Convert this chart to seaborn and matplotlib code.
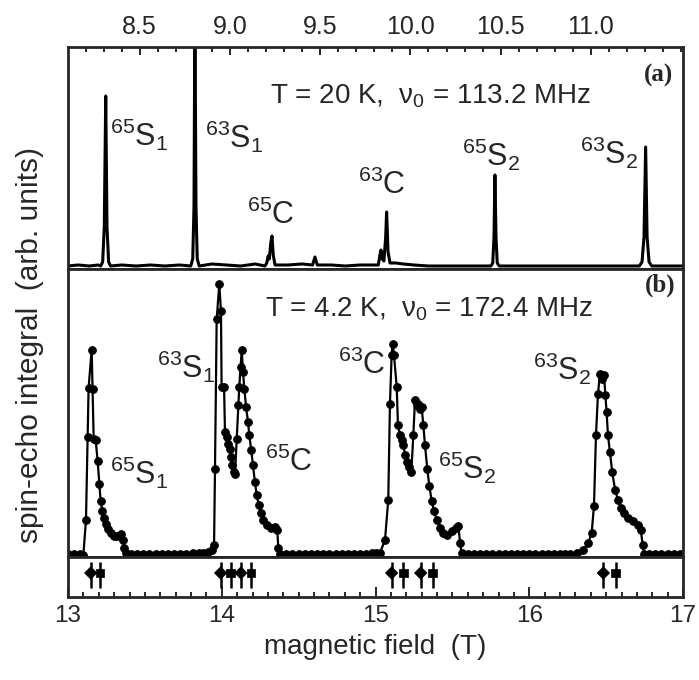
import numpy as np
import pandas as pd
import seaborn as sns
import matplotlib.pyplot as plt
from matplotlib.ticker import MultipleLocator

# ---- panel (a): T = 20 K, nu0 = 113.2 MHz  (field in T, signal in arb. units)
field_a = [8.10, 8.16, 8.22, 8.27,
           8.284, 8.295, 8.304, 8.312, 8.319, 8.328, 8.339,
           8.40, 8.48, 8.56, 8.64, 8.72,
           8.783, 8.794, 8.801, 8.806, 8.812, 8.819, 8.830,
           8.90, 8.98, 9.06, 9.14,
           9.194, 9.204, 9.212, 9.218, 9.227, 9.233, 9.240, 9.250,
           9.32, 9.40,
           9.458, 9.471, 9.484,
           9.56, 9.64, 9.72, 9.80,
           9.822, 9.831, 9.837, 9.844, 9.853, 9.863, 9.868, 9.876, 9.887,
           9.92, 9.96, 10.02,
           10.10, 10.20, 10.30, 10.40,
           10.446, 10.456, 10.463, 10.468, 10.474, 10.481, 10.492,
           10.58, 10.68, 10.78, 10.88, 10.98, 11.08, 11.18,
           11.268, 11.283, 11.294, 11.303, 11.311, 11.322, 11.337,
           11.40, 11.51]
signal_a = [1, 2, 1, 2,
            1, 5, 40, 171, 40, 5, 1,
            2, 1, 2, 1, 2,
            1, 8, 60, 260, 60, 8, 1,
            3, 2, 1, 3,
            1, 4, 11, 8, 25, 31, 12, 2,
            2, 3,
            2, 10, 2,
            2, 1, 2, 2,
            2, 12, 17, 8, 6, 30, 55, 15, 4,
            4, 3, 2,
            1, 1, 1, 1,
            1, 4, 30, 92, 30, 4, 1,
            1, 1, 1, 1, 1, 1, 1,
            1, 5, 30, 120, 30, 5, 1,
            1, 1]

# ---- panel (b): T = 4.2 K, nu0 = 172.4 MHz
field_b = [13.00, 13.04, 13.08,
           13.100, 13.117, 13.128, 13.134, 13.154, 13.160, 13.167, 13.180, 13.193, 13.204, 13.212,
           13.223, 13.234, 13.247, 13.262, 13.280, 13.299, 13.321, 13.343, 13.356, 13.364, 13.377,
           13.41, 13.45, 13.49, 13.53, 13.57, 13.61, 13.65, 13.69, 13.73, 13.77, 13.81, 13.85, 13.88,
           13.913, 13.934, 13.950, 13.956, 13.967, 13.984, 13.995, 13.999, 14.015, 14.021,
           14.032, 14.043, 14.054, 14.062, 14.069, 14.078, 14.086, 14.097, 14.108, 14.114,
           14.123, 14.130, 14.138, 14.147, 14.158, 14.171, 14.179, 14.192, 14.203, 14.216,
           14.227, 14.240, 14.255, 14.270, 14.292, 14.318, 14.346, 14.361, 14.368, 14.379,
           14.42, 14.46, 14.50, 14.54, 14.58, 14.62, 14.66, 14.70, 14.74, 14.78, 14.82, 14.86,
           14.90, 14.94, 14.98, 15.00,
           15.029, 15.062, 15.083, 15.094, 15.105, 15.112, 15.120, 15.138, 15.146, 15.159,
           15.170, 15.181, 15.192, 15.203, 15.220, 15.233, 15.246, 15.257, 15.268, 15.279,
           15.289, 15.300, 15.311, 15.322, 15.337, 15.350, 15.365, 15.380, 15.398, 15.420,
           15.441, 15.467, 15.495, 15.524, 15.539, 15.550, 15.560,
           15.60, 15.64, 15.68, 15.72, 15.76, 15.80, 15.84, 15.88, 15.92, 15.96, 16.00, 16.04,
           16.08, 16.12, 16.16, 16.20, 16.23,
           16.265, 16.308, 16.352, 16.384, 16.406, 16.421, 16.434, 16.447, 16.460, 16.473,
           16.486, 16.495, 16.503, 16.512, 16.525, 16.540, 16.558, 16.576, 16.595, 16.616,
           16.644, 16.677, 16.709, 16.725, 16.738, 16.746,
           16.78, 16.82, 16.86, 16.90, 16.94, 16.98, 17.00]
signal_b = [1, 1, 1,
            0, 35, 117, 166, 204, 165, 115, 114, 93, 70, 54,
            44, 37, 31, 26, 22, 19, 19, 21, 15, 7, 2,
            1, 1, 1, 1, 1, 1, 1, 1, 1, 1, 2, 2, 2,
            3, 5, 10, 85, 234, 269, 242, 167, 167, 122,
            117, 110, 105, 97, 89, 82, 80, 115, 149, 167,
            187, 204, 182, 165, 147, 132, 119, 104, 89, 72,
            60, 50, 42, 35, 30, 27, 28, 25, 7, 1,
            1, 1, 1, 1, 1, 1, 1, 1, 1, 1, 1, 1,
            1, 1, 2, 2,
            2, 15, 55, 150, 199, 210, 199, 167, 129, 119,
            114, 109, 99, 92, 87, 82, 119, 154, 149, 150,
            145, 147, 129, 109, 85, 69, 54, 44, 35, 27,
            22, 20, 24, 27, 29, 12, 2,
            1, 1, 1, 1, 1, 1, 1, 1, 1, 1, 1, 1,
            1, 1, 1, 1, 1,
            1, 2, 5, 12, 22, 49, 119, 160, 180, 175,
            179, 159, 142, 119, 102, 82, 65, 55, 47, 42,
            37, 34, 30, 25, 10, 1,
            1, 1, 1, 1, 1, 1, 1]

# calculated line positions (stick diagram under panel b)
stick_field = [13.148, 13.208, 13.993, 14.058, 14.125, 14.190,
               15.105, 15.181, 15.294, 15.372, 16.482, 16.562]
stick_kind = ['diamond', 'square', 'diamond', 'square', 'diamond', 'square',
              'diamond', 'square', 'diamond', 'square', 'diamond', 'square']

top_ticks = [8.5, 9.0, 9.5, 10.0, 10.5, 11.0]
bottom_ticks = [13, 14, 15, 16, 17]

labels_a = [(8.335, 132, r'${}^{65}\mathrm{S}_1$'), (8.863, 130, r'${}^{63}\mathrm{S}_1$'),
            (9.095, 52, r'${}^{65}\mathrm{C}$'), (9.708, 82, r'${}^{63}\mathrm{C}$'),
            (10.284, 112, r'${}^{65}\mathrm{S}_2$'), (10.939, 114, r'${}^{63}\mathrm{S}_2$')]
labels_b = [(13.577, 187, r'${}^{63}\mathrm{S}_1$'), (13.273, 82, r'${}^{65}\mathrm{S}_1$'),
            (14.281, 92, r'${}^{65}\mathrm{C}$'), (14.758, 188, r'${}^{63}\mathrm{C}$'),
            (15.409, 87, r'${}^{65}\mathrm{S}_2$'), (16.026, 185, r'${}^{63}\mathrm{S}_2$')]

assert len(field_a) == len(signal_a) and len(field_b) == len(signal_b)
df_a = pd.DataFrame({'field': field_a, 'signal': signal_a})
df_b = pd.DataFrame({'field': field_b, 'signal': signal_b})
df_s = pd.DataFrame({'field': stick_field, 'kind': stick_kind, 'y': 0.6})

sns.set_style('ticks')
plt.rcParams['font.family'] = ['Liberation Sans', 'DejaVu Sans']
plt.rcParams['mathtext.fontset'] = 'custom'
plt.rcParams['mathtext.rm'] = 'Liberation Sans'
plt.rcParams['mathtext.it'] = 'Liberation Sans:italic'
plt.rcParams['mathtext.bf'] = 'Liberation Sans:bold'
plt.rcParams['axes.linewidth'] = 2.0

fig = plt.figure(figsize=(6.99, 6.80), dpi=100)
gs = fig.add_gridspec(3, 1, height_ratios=[222, 288, 40], hspace=0,
                      left=68 / 699, right=683 / 699, top=1 - 47 / 680, bottom=1 - 597 / 680)
ax_a = fig.add_subplot(gs[0])
ax_b = fig.add_subplot(gs[1])
ax_s = fig.add_subplot(gs[2])

# (a)
sns.lineplot(data=df_a, x='field', y='signal', ax=ax_a, color='black', lw=2.2, sort=False)
ax_a.set_xlim(8.103, 11.51)
ax_a.set_ylim(-2, 220)
ax_a.xaxis.tick_top()
ax_a.set_xticks(top_ticks)
ax_a.set_xticklabels([f'{t:.1f}' for t in top_ticks])
ax_a.xaxis.set_minor_locator(MultipleLocator(0.1))
ax_a.tick_params(axis='x', which='both', direction='in', top=True, bottom=False, width=1.4,
                 labelsize=18, pad=6)
ax_a.tick_params(axis='x', which='major', length=6)
ax_a.tick_params(axis='x', which='minor', length=3.5)
ax_a.set_yticks([])
ax_a.set_xlabel('')
ax_a.set_ylabel('')
for x, y, s in labels_a:
    ax_a.text(x, y, s, fontsize=22, ha='left', va='center')
ax_a.text(9.223, 164, r'T = 20 K,  $\mathrm{\nu}_0$ = 113.2 MHz', fontsize=20, ha='left', va='baseline')
ax_a.text(0.984, 0.845, '(a)', transform=ax_a.transAxes, fontsize=18, fontweight='bold',
          family='Liberation Serif', ha='right', va='baseline')

# (b)
sns.lineplot(data=df_b, x='field', y='signal', ax=ax_b, color='black', lw=1.6, sort=False,
             marker='o', markersize=5.5, markeredgecolor='black')
ax_b.set_xlim(13, 17)
ax_b.set_ylim(-2, 284)
ax_b.set_xticks([])
ax_b.set_yticks([])
ax_b.set_xlabel('')
ax_b.set_ylabel('')
for x, y, s in labels_b:
    ax_b.text(x, y, s, fontsize=22, ha='left', va='center')
ax_b.text(14.281, 237, r'T = 4.2 K,  $\mathrm{\nu}_0$ = 172.4 MHz', fontsize=20, ha='left', va='baseline')
ax_b.text(0.987, 0.92, '(b)', transform=ax_b.transAxes, fontsize=18, fontweight='bold',
          family='Liberation Serif', ha='right', va='baseline')

# stick diagram
ax_s.vlines(df_s['field'], 0.22, 0.88, color='black', lw=1.8)
sns.scatterplot(data=df_s, x='field', y='y', style='kind', markers={'diamond': 'D', 'square': 's'},
                color='black', s=40, edgecolor='black', legend=False, ax=ax_s)
ax_s.set_xlim(13, 17)
ax_s.set_ylim(0, 1)
ax_s.set_yticks([])
ax_s.set_xticks(bottom_ticks)
ax_s.set_xticklabels([str(t) for t in bottom_ticks])
ax_s.xaxis.set_minor_locator(MultipleLocator(0.1))
ax_s.tick_params(axis='x', which='both', direction='in', width=1.4, labelsize=17.5, pad=6)
ax_s.tick_params(axis='x', which='major', length=7)
ax_s.tick_params(axis='x', which='minor', length=3.5)
ax_s.set_ylabel('')
ax_s.set_xlabel('magnetic field  (T)', fontsize=20, labelpad=5)

fig.text(30 / 699, 1 - 345 / 680, 'spin-echo integral  (arb. units)', rotation=90,
         fontsize=21.5, ha='center', va='center')

fig.savefig('out.png', dpi=100)
